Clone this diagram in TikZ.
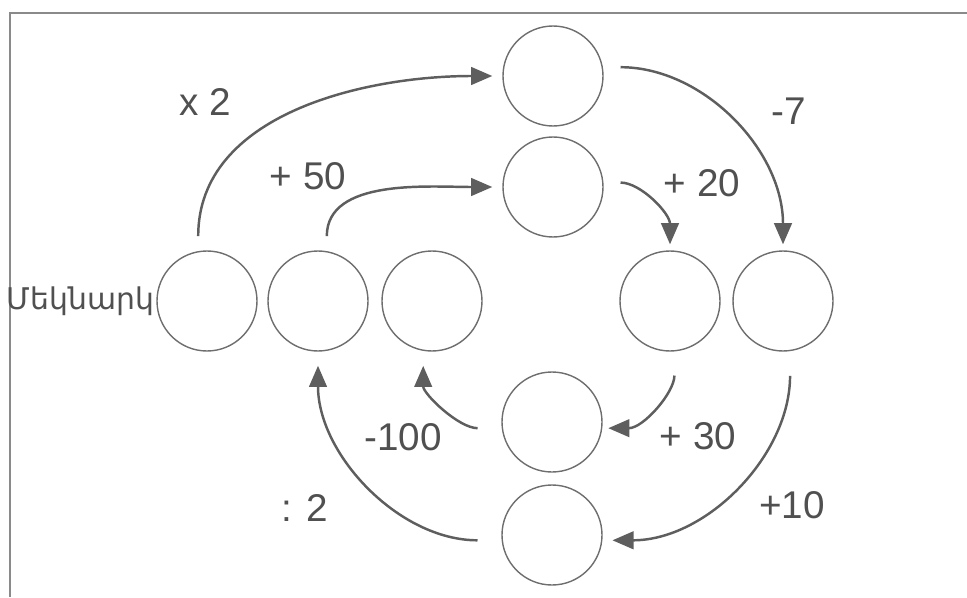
\documentclass[tikz,border=0pt]{standalone}
\usepackage{fontspec}
\setmainfont{Liberation Sans}
\newfontfamily\armfont{DejaVu Sans}
\usetikzlibrary{arrows.meta,positioning}
\tikzset{>=Stealth}
\definecolor{linegray}{HTML}{5E5E5E}
\definecolor{circgray}{HTML}{6E6E6E}
\definecolor{textgray}{HTML}{505050}
\definecolor{framegray}{HTML}{8A8A8A}
\tikzset{
    cell/.style={circle,draw=circgray,line width=0.8pt,minimum size=2cm,inner sep=0pt},
    oplabel/.style={text=textgray,inner sep=0pt,font=\fontsize{22}{24}\selectfont},
    conn/.style={->,line width=1.4pt,color=linegray,>={Triangle[length=12pt,width=10pt]}}
}

\begin{document}
\begin{tikzpicture}[]
    \useasboundingbox (0,0) rectangle (19.34,11.94);
    % frame
    \draw[framegray,line width=1.1pt] (19.34,11.68) -- (0.2,11.68) -- (0.2,0);
    % circles
    \node[cell] at (4.14,5.92) (s1) {};
    \node[cell] at (6.36,5.92) (s2) {};
    \node[cell] at (8.64,5.92) (s3) {};
    \node[cell] at (13.40,5.92) (r1) {};
    \node[cell] at (15.66,5.92) (r2) {};
    \node[cell] at (11.06,10.42) (t1) {};
    \node[cell] at (11.06,8.20) (t2) {};
    \node[cell] at (11.04,3.50) (b1) {};
    \node[cell] at (11.04,1.24) (b2) {};
    \node[anchor=east,inner sep=0pt,text=textgray,font=\armfont\fontsize{17}{19}\selectfont]
        at ([xshift=-1pt]s1.west) (start) {Մեկնարկ};
    % operations
    \node[oplabel] at (4.10,9.90) (lx2) {x 2};
    \node[oplabel] at (6.16,8.42) (lp50) {+ 50};
    \node[oplabel] at (15.78,9.72) (lm7) {-7};
    \node[oplabel] at (14.04,8.28) (lp20) {+ 20};
    \node[oplabel] at (13.96,3.22) (lp30) {+ 30};
    \node[oplabel] at (15.84,1.84) (lp10) {+10};
    \node[oplabel] at (8.06,3.20) (lm100) {-100};
    \node[oplabel] at (6.10,1.78) (ld2) {: 2};
    \path[conn]
    (s1.100) edge [out = 90, in = 180, shorten <= 8.5pt, shorten >= 5.7pt] (t1)
    (s2.80) edge [out = 90, in = 180, shorten <= 8.5pt, shorten >= 5.7pt] (t2)
    (t1.10) edge [out = 0, in = 90, shorten <= 10pt, shorten >= 3.4pt] (r2)
    (t2.5) edge [out = 0, in = 90, shorten <= 9.7pt, shorten >= 3.4pt] (r1)
    (r1.-85) edge [out = -90, in = 0, shorten <= 13.7pt, shorten >= 3.4pt] (b1.-7)
    (r2.-82) edge [out = -90, in = 0, shorten <= 14pt, shorten >= 5.7pt] (b2.-6)
    (b1.187) edge [out = 180, in = -90, shorten <= 13.7pt, shorten >= 8.5pt] (s3.-100)
    (b2.186) edge [out = 180, in = -90, shorten <= 13.7pt, shorten >= 8pt] (s2)
    ;
\end{tikzpicture}
\end{document}
